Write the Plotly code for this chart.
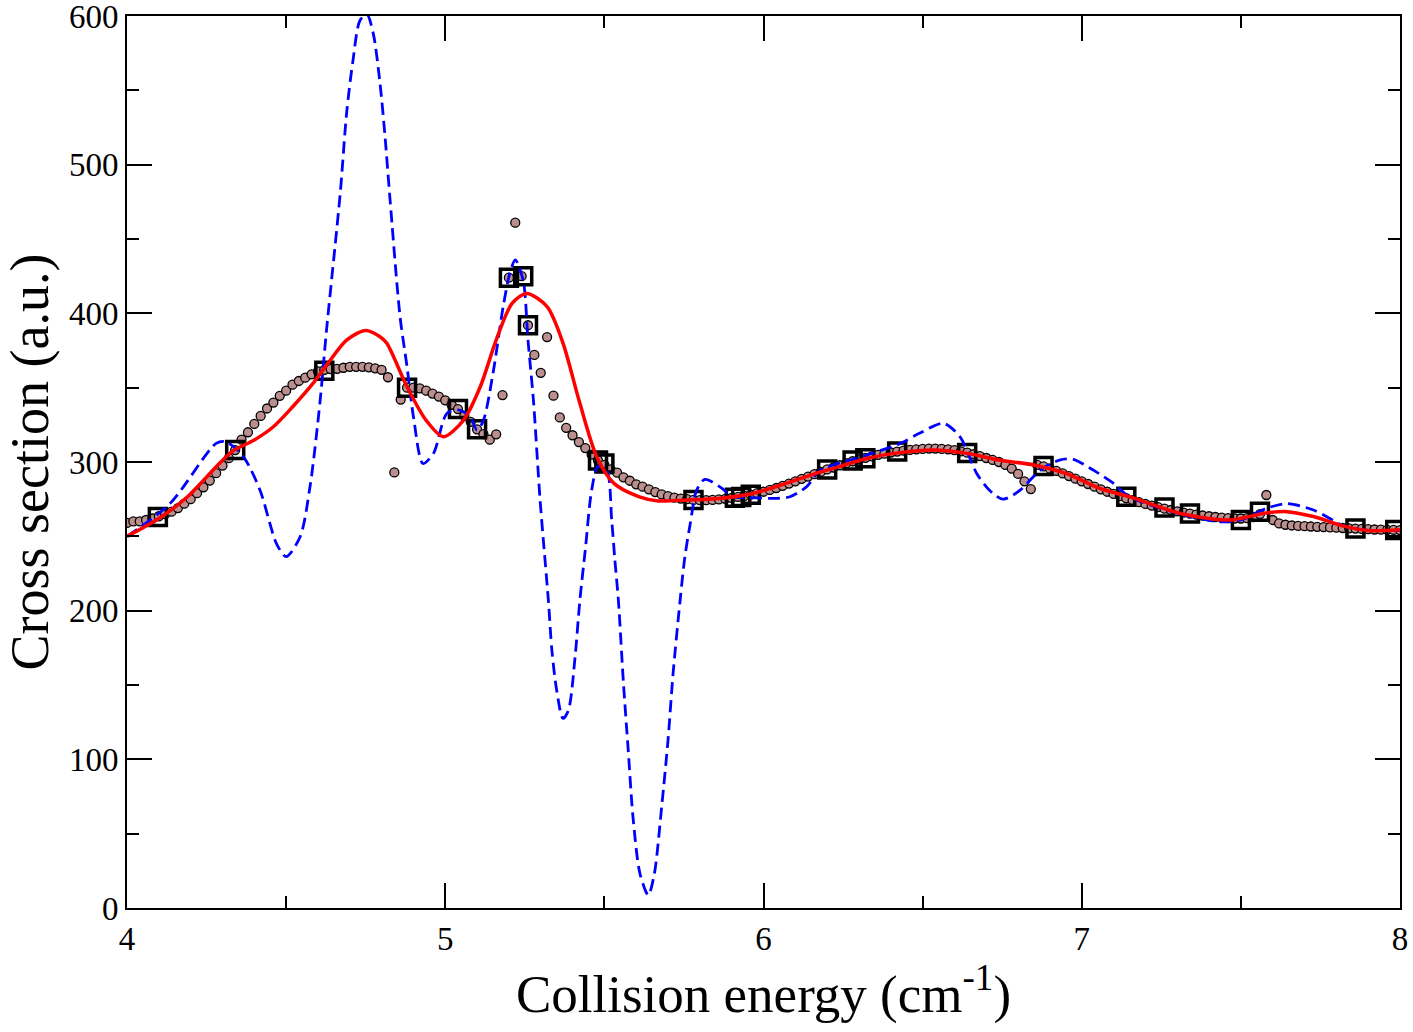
import plotly.graph_objects as go

# Brown circles (dense calculated data)
circ_x = [4.00, 4.02, 4.04, 4.06, 4.08, 4.10, 4.12, 4.14, 4.16, 4.18,
          4.20, 4.22, 4.24, 4.26, 4.28, 4.30, 4.32, 4.34, 4.36, 4.38,
          4.40, 4.42, 4.44, 4.46, 4.48, 4.50, 4.52, 4.54, 4.56, 4.58,
          4.60, 4.62, 4.64, 4.66, 4.68, 4.70, 4.72, 4.74, 4.76, 4.78,
          4.80, 4.82, 4.84, 4.86, 4.88, 4.90, 4.92, 4.94, 4.96, 4.98,
          5.00, 5.02, 5.04, 5.06, 5.08, 5.10, 5.12, 5.14, 5.16, 5.18,
          5.20, 5.22, 5.24, 5.26, 5.28, 5.30, 5.32, 5.34, 5.36, 5.38,
          5.40, 5.42, 5.44, 5.46, 5.48, 5.50, 5.52, 5.54, 5.56, 5.58,
          5.60, 5.62, 5.64, 5.66, 5.68, 5.70, 5.72, 5.74, 5.76, 5.78,
          5.80, 5.82, 5.84, 5.86, 5.88, 5.90, 5.92, 5.94, 5.96, 5.98,
          6.00, 6.02, 6.04, 6.06, 6.08, 6.10, 6.12, 6.14, 6.16, 6.18,
          6.20, 6.22, 6.24, 6.26, 6.28, 6.30, 6.32, 6.34, 6.36, 6.38,
          6.40, 6.42, 6.44, 6.46, 6.48, 6.50, 6.52, 6.54, 6.56, 6.58,
          6.60, 6.62, 6.64, 6.66, 6.68, 6.70, 6.72, 6.74, 6.76, 6.78,
          6.80, 6.82, 6.84, 6.86, 6.88, 6.90, 6.92, 6.94, 6.96, 6.98,
          7.00, 7.02, 7.04, 7.06, 7.08, 7.10, 7.12, 7.14, 7.16, 7.18,
          7.20, 7.22, 7.24, 7.26, 7.28, 7.30, 7.32, 7.34, 7.36, 7.38,
          7.40, 7.42, 7.44, 7.46, 7.48, 7.50, 7.52, 7.54, 7.56, 7.58,
          7.60, 7.62, 7.64, 7.66, 7.68, 7.70, 7.72, 7.74, 7.76, 7.78,
          7.80, 7.82, 7.84, 7.86, 7.88, 7.90, 7.92, 7.94, 7.96, 7.98,
          8.00]
circ_y = [259, 260, 260, 261, 262, 263.5, 265, 266.6, 269, 272,
          275, 279, 283, 287.5, 292.5, 297.6, 302.6, 308, 315, 320,
          325.6, 331, 336, 340, 344.5, 348, 352, 354.5, 356.7, 359,
          361, 362, 362.5, 362.7, 363.4, 364, 364, 364, 363.7, 363,
          362, 357, 293, 342, 350, 350, 349.5, 348, 346, 344,
          341.5, 338.5, 335.6, 331, 327, 322, 318.7, 315, 318.6, 345,
          424, 461, 425, 392, 372, 360, 384, 344.6, 330, 323,
          318, 313.4, 309.4, 305, 301, 298, 295, 292.8, 289.7, 287.4,
          285, 283.4, 281.6, 279.8, 278.2, 277, 276, 275.4, 275, 274.5,
          274.3, 274.3, 274.5, 274.8, 275.2, 275.8, 276.5, 277.2, 278, 279,
          280, 281.2, 282.5, 284, 285.5, 287, 288.7, 290.2, 291.8, 293.3,
          295, 296.3, 297.8, 299.2, 300.5, 301.7, 302.8, 303.8, 304.8, 305.6,
          306.4, 307, 307.6, 308.1, 308.5, 308.8, 309, 309, 308.8, 308.5,
          308, 307.2, 306.3, 305.2, 304, 302.7, 301.4, 300, 298, 295.6,
          292, 287, 281.8, 298, 297, 295.5, 294, 292.3, 290.5, 288.8,
          287, 285.2, 283.4, 281.6, 280, 278.5, 277, 275.6, 274.3, 273,
          271.8, 270.7, 269.6, 268.6, 267.7, 266.8, 266, 265.3, 264.6, 264,
          263.5, 263, 262.6, 262.3, 262, 262, 262.2, 263, 265, 277.8,
          261, 258.7, 257.8, 257.3, 257, 256.8, 256.6, 256.4, 256.2, 256,
          255.8, 255.6, 255.4, 255.2, 255, 254.8, 254.6, 254.5, 254.4, 254.3,
          254.2]

# Open squares
sq_x = [4.097, 4.34, 4.62, 4.88, 5.04, 5.10, 5.20, 5.245, 5.26, 5.48, 5.50,
        5.78, 5.91, 5.93, 5.96, 6.20, 6.28, 6.32, 6.42, 6.64, 6.88, 7.14,
        7.26, 7.34, 7.50, 7.56, 7.86, 7.985]
sq_y = [263, 308, 361.4, 350, 335.6, 322, 424, 425, 392, 301, 299,
        274.4, 276, 276.5, 278, 295, 301, 302.6, 307, 306, 297.3, 276.6,
        269.4, 265.4, 261, 266.6, 255.3, 254.3]

# Red solid curve
red_x = [4.00, 4.10, 4.19, 4.29, 4.333, 4.40, 4.46, 4.52, 4.585, 4.63, 4.69,
         4.75, 4.795, 4.816, 4.88, 4.94, 4.994, 5.057, 5.11, 5.16, 5.21,
         5.256, 5.32, 5.37, 5.42, 5.476, 5.53, 5.61, 5.67, 5.76, 5.86,
         5.97, 6.07, 6.18, 6.22, 6.324, 6.43, 6.534, 6.64, 6.74, 6.85,
         6.95, 7.057, 7.15, 7.31, 7.466, 7.57, 7.644, 7.728, 7.83, 7.906,
         8.00]
red_y = [250, 262, 276.6, 299, 307.5, 314.8, 323.7, 337, 353, 366, 382,
         388.5, 384.3, 380, 350.6, 328, 317, 328, 350.6, 382, 406.7,
         413.4, 404.5, 380, 341.7, 303.5, 285.6, 276.6, 273.8, 274.5, 275.5,
         279, 285.6, 293.4, 295.7, 302.4, 306.3, 308, 305.8, 301.3, 298,
         292.3, 282.2, 276.6, 265.4, 261, 265.4, 266.6, 263.3, 256.5, 253.8,
         254.5]

# Blue dashed curve
blue_x = [4.00, 4.135, 4.28, 4.31, 4.366, 4.418, 4.47, 4.50, 4.544, 4.575,
          4.606, 4.627, 4.67, 4.69, 4.71, 4.732, 4.754, 4.774, 4.795, 4.81,
          4.826, 4.858, 4.88, 4.90, 4.93, 4.963, 5.005, 5.04, 5.078, 5.10,
          5.12, 5.15, 5.182, 5.203, 5.22, 5.245, 5.26, 5.277, 5.298, 5.324,
          5.335, 5.35, 5.37, 5.387, 5.408, 5.423, 5.44, 5.46, 5.48, 5.507,
          5.523, 5.533, 5.544, 5.56, 5.575, 5.59, 5.612, 5.638, 5.657, 5.68,
          5.70, 5.716, 5.738, 5.753, 5.77, 5.79, 5.816, 5.863, 5.905, 5.96,
          6.04, 6.083, 6.135, 6.18, 6.30, 6.43, 6.49, 6.565, 6.617, 6.67,
          6.71, 6.753, 6.806, 6.87, 6.93, 6.973, 7.036, 7.10, 7.15, 7.31,
          7.434, 7.50, 7.58, 7.644, 7.728, 7.83, 7.906, 8.00]
blue_y = [250, 272, 312.5, 313.7, 303.5, 281, 245, 236.3, 249.7, 283.3,
          339.4, 388.8, 480.7, 534.5, 570, 597, 601, 588, 554.7, 521,
          478, 397.7, 364, 330.5, 299, 305.8, 332.7, 335, 330.5, 321.5,
          328, 359.6, 404.4, 427, 436, 422, 382, 341.7, 274.4, 207,
          173.5, 146.6, 127.5, 133, 169, 207, 240.8, 281, 297, 294.6,
          261, 234, 207, 151, 106, 61, 23, 8.7, 23, 68,
          113, 158, 207, 236.3, 258.7, 281, 288.3, 283.3, 276.6, 276,
          275.5, 276.6, 283.3, 294.6, 303, 312.5, 319.3, 326, 317, 292.3,
          281, 275, 281, 294.6, 301.3, 301.8, 294.6, 285.6, 276.6, 265,
          259.8, 261, 268.8, 272, 267.7, 256.5, 254, 254]

fig = go.Figure()
fig.add_trace(go.Scatter(
    x=circ_x, y=circ_y, mode="markers",
    marker=dict(symbol="circle", size=9, color="#bc8f8f",
                line=dict(color="black", width=1.3)),
    showlegend=False))
fig.add_trace(go.Scatter(
    x=sq_x, y=sq_y, mode="markers",
    marker=dict(symbol="square-open", size=17, color="black",
                line=dict(color="black", width=3.5)),
    showlegend=False))
fig.add_trace(go.Scatter(
    x=blue_x, y=blue_y, mode="lines",
    line=dict(color="#0000ff", width=2.8, dash="12px,6px", shape="spline",
              smoothing=0.8),
    showlegend=False))
fig.add_trace(go.Scatter(
    x=red_x, y=red_y, mode="lines",
    line=dict(color="#ff0000", width=3.5, shape="spline", smoothing=0.8),
    showlegend=False))

axis_common = dict(
    showgrid=False, zeroline=False, showline=True, linecolor="black",
    linewidth=2, mirror="ticks", ticks="inside", tickcolor="black",
    tickwidth=2, ticklen=25, automargin=False, ticklabeloverflow="allow",
    tickfont=dict(family="Liberation Serif", size=33, color="black"),
)

fig.update_xaxes(
    range=[4, 8], dtick=1, tick0=4,
    minor=dict(dtick=0.5, ticks="inside", ticklen=12, tickwidth=2,
               tickcolor="black"),
    title=dict(text="Collision energy (cm<sup>-1</sup>)",
               font=dict(family="Liberation Serif", size=53, color="black"),
               standoff=18),
    **axis_common)
fig.update_yaxes(
    range=[0, 600], dtick=100, tick0=0,
    minor=dict(dtick=50, ticks="inside", ticklen=12, tickwidth=2,
               tickcolor="black"),
    title=dict(text="Cross section (a.u.)",
               font=dict(family="Liberation Serif", size=54, color="black"),
               standoff=12),
    **axis_common)

fig.update_layout(
    width=1413, height=1032,
    margin=dict(l=127, r=13, t=16, b=124),
    plot_bgcolor="white", paper_bgcolor="white",
    showlegend=False,
)

fig.write_html("out.html")
